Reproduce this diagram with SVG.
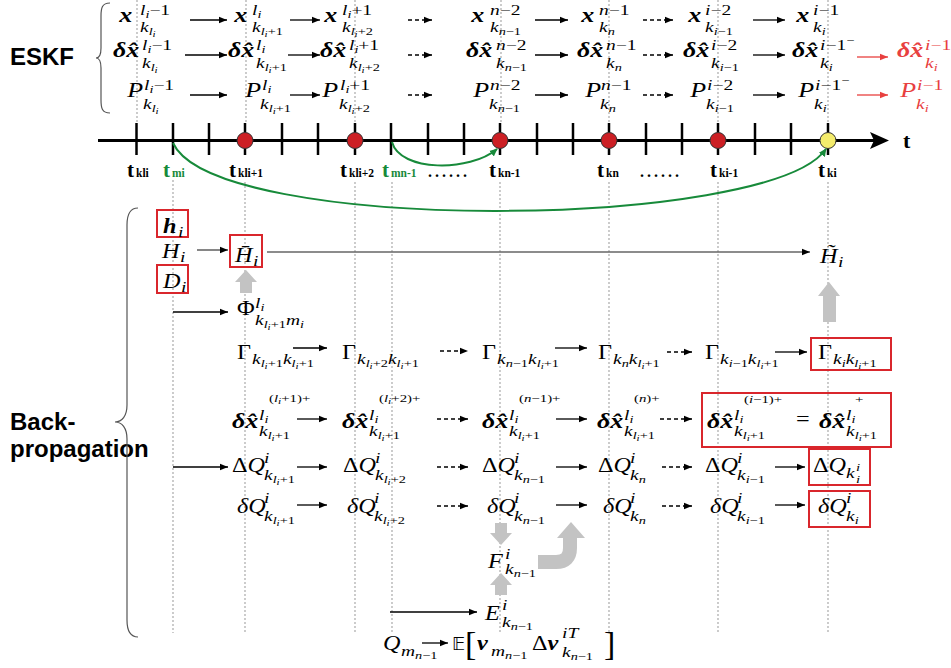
<svg xmlns="http://www.w3.org/2000/svg" width="951" height="668" viewBox="0 0 951 668">
<defs>
<style>
text{font-family:"Liberation Serif","Times New Roman",serif;fill:#000}
.m,.M,.s,.q{transform-box:fill-box;transform-origin:0 0}
.m{font-size:22px;font-style:italic;transform:scaleX(1.18)}
.M{font-size:22px;font-style:italic;transform:scaleX(1.1)}
.s{font-size:15px;font-style:italic;transform:scaleX(1.3)}
.q{font-size:11px;font-style:italic;transform:scaleX(1.35)}
.b{font-weight:bold}
.u{font-style:normal}
.t10{font-size:11px}
.t8{font-size:8.5px}
.red{fill:#e8403f}
.lbl{font-family:"Liberation Sans",Arial,sans-serif;font-weight:bold;font-size:24px}
.tl{font-weight:bold;font-size:21px}
.tls{font-size:11.5px}
.grn{fill:#178a3a}
.ln{fill:none;stroke:#000;stroke-width:1.3;marker-end:url(#ah)}
.da{stroke-dasharray:4 3}
.rl{fill:none;stroke:#e8403f;stroke-width:1.3;marker-end:url(#ahr)}
.gl{fill:none;stroke:#178a3a;stroke-width:2;marker-end:url(#ahg)}
.box{fill:none;stroke:#d9262c;stroke-width:2}
.dot{stroke:#aaa;stroke-width:1.2;stroke-dasharray:2 2}
.tick{stroke:#000;stroke-width:2.5}
.gry{fill:#c3c3c3}
.brace{fill:none;stroke:#555;stroke-width:1.2}
</style>
<marker id="ah" viewBox="0 0 10 10" refX="10" refY="5" markerWidth="8" markerHeight="8" markerUnits="userSpaceOnUse" orient="auto"><path d="M0,0.8 L10,5 L0,9.2 z" fill="#000"/></marker>
<marker id="ahr" viewBox="0 0 10 10" refX="10" refY="5" markerWidth="8" markerHeight="8" markerUnits="userSpaceOnUse" orient="auto"><path d="M0,0.8 L10,5 L0,9.2 z" fill="#e8403f"/></marker>
<marker id="ahg" viewBox="0 0 10 10" refX="9" refY="5" markerWidth="8" markerHeight="8" markerUnits="userSpaceOnUse" orient="auto"><path d="M0,0.5 L10,5 L0,9.5 z" fill="#178a3a"/></marker>
</defs>
<rect width="951" height="668" fill="#fff"/>

<g id="gridlines">
<line class="dot" x1="137" y1="0" x2="137" y2="122"/>
<line class="dot" x1="246" y1="0" x2="246" y2="122"/>
<line class="dot" x1="355" y1="0" x2="355" y2="122"/>
<line class="dot" x1="501" y1="0" x2="501" y2="122"/>
<line class="dot" x1="609" y1="0" x2="609" y2="122"/>
<line class="dot" x1="718" y1="0" x2="718" y2="122"/>
<line class="dot" x1="828" y1="0" x2="828" y2="122"/>
<line class="dot" x1="173" y1="180" x2="173" y2="633"/>
<line class="dot" x1="245" y1="182" x2="245" y2="633"/>
<line class="dot" x1="355" y1="182" x2="355" y2="633"/>
<line class="dot" x1="392" y1="182" x2="392" y2="633"/>
<line class="dot" x1="500" y1="182" x2="500" y2="633"/>
<line class="dot" x1="609" y1="182" x2="609" y2="633"/>
<line class="dot" x1="718" y1="182" x2="718" y2="633"/>
<line class="dot" x1="828" y1="182" x2="828" y2="633"/>
</g>

<g id="labels">
<text class="lbl" x="10" y="65">ESKF</text>
<text class="lbl" x="10" y="430">Back-</text>
<text class="lbl" x="10" y="457">propagation</text>
<path class="brace" d="M110,3 C102,3 101,8 101,16 L101,48 C101,55 99,58 96,58 C99,58 101,61 101,68 L101,100 C101,108 102,113 110,113"/>
<path class="brace" d="M138,208 C130,208 127,214 127,225 L127,405 C127,416 122,422 115,422 C122,422 127,428 127,439 L127,620 C127,631 130,637 138,637"/>
</g>

<g id="timeline">
<line x1="98" y1="140.5" x2="876" y2="140.5" stroke="#000" stroke-width="3"/>
<polygon points="870,132 889,140.5 870,149 874,140.5" fill="#000"/>
<g class="tick">
<line x1="136.5" y1="123" x2="136.5" y2="155"/><line x1="173" y1="123" x2="173" y2="155"/><line x1="209" y1="123" x2="209" y2="155"/><line x1="245" y1="123" x2="245" y2="155"/><line x1="282" y1="123" x2="282" y2="155"/><line x1="318" y1="123" x2="318" y2="155"/><line x1="355" y1="123" x2="355" y2="155"/><line x1="391" y1="123" x2="391" y2="155"/><line x1="428" y1="123" x2="428" y2="155"/><line x1="464" y1="123" x2="464" y2="155"/><line x1="500" y1="123" x2="500" y2="155"/><line x1="537" y1="123" x2="537" y2="155"/><line x1="573" y1="123" x2="573" y2="155"/><line x1="609" y1="123" x2="609" y2="155"/><line x1="646" y1="123" x2="646" y2="155"/><line x1="682" y1="123" x2="682" y2="155"/><line x1="718" y1="123" x2="718" y2="155"/><line x1="755" y1="123" x2="755" y2="155"/><line x1="791" y1="123" x2="791" y2="155"/><line x1="828" y1="123" x2="828" y2="155"/>
</g>
<g stroke="#333" stroke-width="1">
<circle cx="245" cy="140.5" r="8" fill="#cc1f24"/>
<circle cx="355" cy="140.5" r="8" fill="#cc1f24"/>
<circle cx="500" cy="140.5" r="8" fill="#cc1f24"/>
<circle cx="609" cy="140.5" r="8" fill="#cc1f24"/>
<circle cx="718" cy="140.5" r="8" fill="#cc1f24"/>
<circle cx="828" cy="140.5" r="8" fill="#f4ec6c"/>
</g>
<text class="tl" x="127" y="177">t<tspan class="tls" dx="2">kli</tspan></text>
<text class="tl grn" x="163" y="177">t<tspan class="tls" dx="2">mi</tspan></text>
<text class="tl" x="229" y="177">t<tspan class="tls" dx="2">kli+1</tspan></text>
<text class="tl" x="340" y="177">t<tspan class="tls" dx="2">kli+2</tspan></text>
<text class="tl grn" x="382" y="177">t<tspan class="tls" dx="2">mn-1</tspan></text>
<text class="tl" x="428" y="177" style="font-size:16px;letter-spacing:3px">......</text>
<text class="tl" x="489" y="177">t<tspan class="tls" dx="2">kn-1</tspan></text>
<text class="tl" x="597" y="177">t<tspan class="tls" dx="2">kn</tspan></text>
<text class="tl" x="640" y="177" style="font-size:16px;letter-spacing:3px">......</text>
<text class="tl" x="710" y="177">t<tspan class="tls" dx="2">ki-1</tspan></text>
<text class="tl" x="818" y="177">t<tspan class="tls" dx="2">ki</tspan></text>
<text class="tl" x="903" y="148" style="font-size:22px">t</text>
</g>

<g id="eskf-row1">
<g id="x1"><text class="m b" x="119" y="22">x</text><text class="s" x="140" y="15">l<tspan class="t10" dy="3">i</tspan><tspan class="u" dy="-3">−1</tspan></text><text class="s" x="140" y="32">k<tspan class="t10" dy="3">l</tspan><tspan class="t8" dy="2">i</tspan></text></g>
<g id="x2"><text class="m b" x="234" y="22">x</text><text class="s" x="252" y="15">l<tspan class="t10" dy="3">i</tspan></text><text class="s" x="252" y="32">k<tspan class="t10" dy="3">l</tspan><tspan class="t8" dy="2">i</tspan><tspan class="t10 u" dy="-2">+1</tspan></text></g>
<g id="x3"><text class="m b" x="324" y="22">x</text><text class="s" x="342" y="15">l<tspan class="t10" dy="3">i</tspan><tspan class="u" dy="-3">+1</tspan></text><text class="s" x="342" y="32">k<tspan class="t10" dy="3">l</tspan><tspan class="t8" dy="2">i</tspan><tspan class="t10 u" dy="-2">+2</tspan></text></g>
<g id="x4"><text class="m b" x="471" y="22">x</text><text class="s" x="490" y="15">n<tspan class="u">−2</tspan></text><text class="s" x="490" y="32">k<tspan class="t10" dy="3">n</tspan><tspan class="t10 u">−1</tspan></text></g>
<g id="x5"><text class="m b" x="581" y="22">x</text><text class="s" x="599" y="15">n<tspan class="u">−1</tspan></text><text class="s" x="599" y="32">k<tspan class="t10" dy="3">n</tspan></text></g>
<g id="x6"><text class="m b" x="688" y="22">x</text><text class="s" x="705" y="15">i<tspan class="u">−2</tspan></text><text class="s" x="705" y="32">k<tspan class="t10" dy="3">i</tspan><tspan class="t10 u">−1</tspan></text></g>
<g id="x7"><text class="m b" x="796" y="22">x</text><text class="s" x="813" y="15">i<tspan class="u">−1</tspan></text><text class="s" x="813" y="32">k<tspan class="t10" dy="3">i</tspan></text></g>
</g>

<g id="eskf-row2">
<g id="dx1"><text class="m b" x="113" y="57">δx&#x302;</text><text class="s" x="142" y="50">l<tspan class="t10" dy="3">i</tspan><tspan class="u" dy="-3">−1</tspan></text><text class="s" x="142" y="68">k<tspan class="t10" dy="3">l</tspan><tspan class="t8" dy="2">i</tspan></text></g>
<g id="dx2"><text class="m b" x="228" y="57">δx&#x302;</text><text class="s" x="256" y="50">l<tspan class="t10" dy="3">i</tspan></text><text class="s" x="256" y="68">k<tspan class="t10" dy="3">l</tspan><tspan class="t8" dy="2">i</tspan><tspan class="t10 u" dy="-2">+1</tspan></text></g>
<g id="dx3"><text class="m b" x="320" y="57">δx&#x302;</text><text class="s" x="349" y="50">l<tspan class="t10" dy="3">i</tspan><tspan class="u" dy="-3">+1</tspan></text><text class="s" x="349" y="68">k<tspan class="t10" dy="3">l</tspan><tspan class="t8" dy="2">i</tspan><tspan class="t10 u" dy="-2">+2</tspan></text></g>
<g id="dx4"><text class="m b" x="466" y="57">δx&#x302;</text><text class="s" x="496" y="50">n<tspan class="u">−2</tspan></text><text class="s" x="496" y="68">k<tspan class="t10" dy="3">n</tspan><tspan class="t10 u">−1</tspan></text></g>
<g id="dx5"><text class="m b" x="577" y="57">δx&#x302;</text><text class="s" x="606" y="50">n<tspan class="u">−1</tspan></text><text class="s" x="606" y="68">k<tspan class="t10" dy="3">n</tspan></text></g>
<g id="dx6"><text class="m b" x="683" y="57">δx&#x302;</text><text class="s" x="711" y="50">i<tspan class="u">−2</tspan></text><text class="s" x="711" y="68">k<tspan class="t10" dy="3">i</tspan><tspan class="t10 u">−1</tspan></text></g>
<g id="dx7"><text class="m b" x="792" y="57">δx&#x302;</text><text class="s" x="820" y="50">i<tspan class="u">−1</tspan><tspan class="t10 u" dy="-6">−</tspan></text><text class="s" x="820" y="68">k<tspan class="t10" dy="3">i</tspan></text></g>
<g id="dx8"><text class="m b red" x="897" y="57">δx&#x302;</text><text class="s red" x="925" y="50">i<tspan class="u">−1</tspan></text><text class="s red" x="925" y="68">k<tspan class="t10" dy="3">i</tspan></text></g>
</g>

<g id="eskf-row3">
<g id="p1"><text class="m" x="127" y="97">P</text><text class="s" x="144" y="90">l<tspan class="t10" dy="3">i</tspan><tspan class="u" dy="-3">−1</tspan></text><text class="s" x="143" y="109">k<tspan class="t10" dy="3">l</tspan><tspan class="t8" dy="2">i</tspan></text></g>
<g id="p2"><text class="m" x="245" y="97">P</text><text class="s" x="262" y="90">l<tspan class="t10" dy="3">i</tspan></text><text class="s" x="260" y="109">k<tspan class="t10" dy="3">l</tspan><tspan class="t8" dy="2">i</tspan><tspan class="t10 u" dy="-2">+1</tspan></text></g>
<g id="p3"><text class="m" x="322" y="97">P</text><text class="s" x="340" y="90">l<tspan class="t10" dy="3">i</tspan><tspan class="u" dy="-3">+1</tspan></text><text class="s" x="339" y="109">k<tspan class="t10" dy="3">l</tspan><tspan class="t8" dy="2">i</tspan><tspan class="t10 u" dy="-2">+2</tspan></text></g>
<g id="p4"><text class="m" x="473" y="97">P</text><text class="s" x="490" y="90">n<tspan class="u">−2</tspan></text><text class="s" x="489" y="109">k<tspan class="t10" dy="3">n</tspan><tspan class="t10 u">−1</tspan></text></g>
<g id="p5"><text class="m" x="585" y="97">P</text><text class="s" x="601" y="90">n<tspan class="u">−1</tspan></text><text class="s" x="600" y="109">k<tspan class="t10" dy="3">n</tspan></text></g>
<g id="p6"><text class="m" x="690" y="97">P</text><text class="s" x="707" y="90">i<tspan class="u">−2</tspan></text><text class="s" x="706" y="109">k<tspan class="t10" dy="3">i</tspan><tspan class="t10 u">−1</tspan></text></g>
<g id="p7"><text class="m" x="798" y="97">P</text><text class="s" x="815" y="90">i<tspan class="u">−1</tspan><tspan class="t10 u" dy="-6">−</tspan></text><text class="s" x="814" y="109">k<tspan class="t10" dy="3">i</tspan></text></g>
<g id="p8"><text class="m red" x="900" y="97">P</text><text class="s red" x="917" y="90">i<tspan class="u">−1</tspan></text><text class="s red" x="916" y="109">k<tspan class="t10" dy="3">i</tspan></text></g>
</g>

<g id="bp-H">
<g id="hi"><rect class="box" x="157" y="210" width="31" height="27"/><text class="M b" x="163" y="233">h</text><text class="s" x="178" y="237">i</text></g>
<g id="Hi"><text class="M" x="162" y="258">H</text><text class="s" x="180" y="262">i</text></g>
<g id="Di"><rect class="box" x="157" y="265" width="31" height="28"/><text class="M" x="163" y="288">D</text><text class="s" x="181" y="292">i</text></g>
<g id="Hbar"><rect class="box" x="230" y="235" width="32" height="32"/><text class="M" x="235" y="262">H&#x304;</text><text class="s" x="253" y="266">i</text></g>
<g id="Htilde"><text class="M" x="820" y="263">H&#x303;</text><text class="s" x="838" y="267">i</text></g>
<g id="Phi"><text class="M u" x="237" y="315">Φ</text><text class="s" x="255" y="308">l<tspan class="t10" dy="3">i</tspan></text><text class="s" x="255" y="325">k<tspan class="t10" dy="3">l</tspan><tspan class="t8" dy="2">i</tspan><tspan class="t10 u" dy="-2">+1</tspan><tspan dy="-3">m</tspan><tspan class="t10" dy="3">i</tspan></text></g>
</g>

<g id="bp-gamma">
<g id="G1"><text class="M u" x="237" y="359">Γ</text><text class="s" x="252" y="364">k<tspan class="t10" dy="3">l</tspan><tspan class="t8" dy="2">i</tspan><tspan class="t10 u" dy="-2">+1</tspan><tspan dy="-3">k</tspan><tspan class="t10" dy="3">l</tspan><tspan class="t8" dy="2">i</tspan><tspan class="t10 u" dy="-2">+1</tspan></text></g>
<g id="G2"><text class="M u" x="342" y="359">Γ</text><text class="s" x="357" y="364">k<tspan class="t10" dy="3">l</tspan><tspan class="t8" dy="2">i</tspan><tspan class="t10 u" dy="-2">+2</tspan><tspan dy="-3">k</tspan><tspan class="t10" dy="3">l</tspan><tspan class="t8" dy="2">i</tspan><tspan class="t10 u" dy="-2">+1</tspan></text></g>
<g id="G3"><text class="M u" x="482" y="359">Γ</text><text class="s" x="497" y="364">k<tspan class="t10" dy="3">n</tspan><tspan class="t10 u">−1</tspan><tspan dy="-3">k</tspan><tspan class="t10" dy="3">l</tspan><tspan class="t8" dy="2">i</tspan><tspan class="t10 u" dy="-2">+1</tspan></text></g>
<g id="G4"><text class="M u" x="598" y="359">Γ</text><text class="s" x="613" y="364">k<tspan class="t10" dy="3">n</tspan><tspan dy="-3">k</tspan><tspan class="t10" dy="3">l</tspan><tspan class="t8" dy="2">i</tspan><tspan class="t10 u" dy="-2">+1</tspan></text></g>
<g id="G5"><text class="M u" x="705" y="359">Γ</text><text class="s" x="720" y="364">k<tspan class="t10" dy="3">i</tspan><tspan class="t10 u">−1</tspan><tspan dy="-3">k</tspan><tspan class="t10" dy="3">l</tspan><tspan class="t8" dy="2">i</tspan><tspan class="t10 u" dy="-2">+1</tspan></text></g>
<g id="G6"><rect class="box" x="811" y="338" width="80" height="32"/><text class="M u" x="818" y="359">Γ</text><text class="s" x="833" y="364">k<tspan class="t10" dy="3">i</tspan><tspan dy="-3">k</tspan><tspan class="t10" dy="3">l</tspan><tspan class="t8" dy="2">i</tspan><tspan class="t10 u" dy="-2">+1</tspan></text></g>
</g>

<g id="bp-dx">
<g id="B1"><text class="m b" x="232" y="428">δx&#x302;</text><text class="s" x="259" y="420">l<tspan class="t10" dy="3">i</tspan></text><text class="q" x="269" y="402"><tspan class="u">(</tspan>l<tspan class="t8" dy="2">i</tspan><tspan class="u" dy="-2">+1)+</tspan></text><text class="s" x="259" y="436">k<tspan class="t10" dy="3">l</tspan><tspan class="t8" dy="2">i</tspan><tspan class="t10 u" dy="-2">+1</tspan></text></g>
<g id="B2"><text class="m b" x="342" y="428">δx&#x302;</text><text class="s" x="369" y="420">l<tspan class="t10" dy="3">i</tspan></text><text class="q" x="379" y="402"><tspan class="u">(</tspan>l<tspan class="t8" dy="2">i</tspan><tspan class="u" dy="-2">+2)+</tspan></text><text class="s" x="369" y="436">k<tspan class="t10" dy="3">l</tspan><tspan class="t8" dy="2">i</tspan><tspan class="t10 u" dy="-2">+1</tspan></text></g>
<g id="B3"><text class="m b" x="482" y="428">δx&#x302;</text><text class="s" x="509" y="420">l<tspan class="t10" dy="3">i</tspan></text><text class="q" x="519" y="402"><tspan class="u">(</tspan>n<tspan class="u">−1)+</tspan></text><text class="s" x="509" y="436">k<tspan class="t10" dy="3">l</tspan><tspan class="t8" dy="2">i</tspan><tspan class="t10 u" dy="-2">+1</tspan></text></g>
<g id="B4"><text class="m b" x="597" y="428">δx&#x302;</text><text class="s" x="624" y="420">l<tspan class="t10" dy="3">i</tspan></text><text class="q" x="634" y="402"><tspan class="u">(</tspan>n<tspan class="u">)+</tspan></text><text class="s" x="624" y="436">k<tspan class="t10" dy="3">l</tspan><tspan class="t8" dy="2">i</tspan><tspan class="t10 u" dy="-2">+1</tspan></text></g>
<g id="B5"><rect class="box" x="702" y="393" width="189" height="54"/><text class="m b" x="707" y="428">δx&#x302;</text><text class="s" x="734" y="420">l<tspan class="t10" dy="3">i</tspan></text><text class="q" x="744" y="403"><tspan class="u">(</tspan>i<tspan class="u">−1)+</tspan></text><text class="s" x="734" y="436">k<tspan class="t10" dy="3">l</tspan><tspan class="t8" dy="2">i</tspan><tspan class="t10 u" dy="-2">+1</tspan></text><text class="M u" x="796" y="426">=</text><text class="m b" x="819" y="428">δx&#x302;</text><text class="s" x="846" y="420">l<tspan class="t10" dy="3">i</tspan></text><text class="q u" x="855" y="403">+</text><text class="s" x="846" y="436">k<tspan class="t10" dy="3">l</tspan><tspan class="t8" dy="2">i</tspan><tspan class="t10 u" dy="-2">+1</tspan></text></g>
</g>

<g id="bp-DQ">
<g id="D1"><text class="M" x="232" y="472"><tspan class="u">Δ</tspan>Q</text><text class="s" x="264" y="463">i</text><text class="s" x="264" y="480">k<tspan class="t10" dy="3">l</tspan><tspan class="t8" dy="2">i</tspan><tspan class="t10 u" dy="-2">+1</tspan></text></g>
<g id="D2"><text class="M" x="343" y="472"><tspan class="u">Δ</tspan>Q</text><text class="s" x="375" y="463">i</text><text class="s" x="375" y="480">k<tspan class="t10" dy="3">l</tspan><tspan class="t8" dy="2">i</tspan><tspan class="t10 u" dy="-2">+2</tspan></text></g>
<g id="D3"><text class="M" x="482" y="472"><tspan class="u">Δ</tspan>Q</text><text class="s" x="514" y="463">i</text><text class="s" x="514" y="480">k<tspan class="t10" dy="3">n</tspan><tspan class="t10 u">−1</tspan></text></g>
<g id="D4"><text class="M" x="598" y="472"><tspan class="u">Δ</tspan>Q</text><text class="s" x="630" y="463">i</text><text class="s" x="630" y="480">k<tspan class="t10" dy="3">n</tspan></text></g>
<g id="D5"><text class="M" x="705" y="472"><tspan class="u">Δ</tspan>Q</text><text class="s" x="737" y="463">i</text><text class="s" x="737" y="480">k<tspan class="t10" dy="3">i</tspan><tspan class="t10 u">−1</tspan></text></g>
<g id="D6"><rect class="box" x="809" y="449" width="61" height="36"/><text class="M" x="813" y="472"><tspan class="u">Δ</tspan>Q</text><text class="s" x="846" y="478">k</text><text class="q" x="856" y="471">i</text><text class="q" x="856" y="483">i</text></g>
</g>

<g id="bp-dQ">
<g id="d1"><text class="M" x="237" y="513">δQ</text><text class="s" x="264" y="503">i</text><text class="s" x="264" y="521">k<tspan class="t10" dy="3">l</tspan><tspan class="t8" dy="2">i</tspan><tspan class="t10 u" dy="-2">+1</tspan></text></g>
<g id="d2"><text class="M" x="347" y="513">δQ</text><text class="s" x="374" y="503">i</text><text class="s" x="374" y="521">k<tspan class="t10" dy="3">l</tspan><tspan class="t8" dy="2">i</tspan><tspan class="t10 u" dy="-2">+2</tspan></text></g>
<g id="d3"><text class="M" x="487" y="513">δQ</text><text class="s" x="514" y="503">i</text><text class="s" x="514" y="521">k<tspan class="t10" dy="3">n</tspan><tspan class="t10 u">−1</tspan></text></g>
<g id="d4"><text class="M" x="603" y="513">δQ</text><text class="s" x="630" y="503">i</text><text class="s" x="630" y="521">k<tspan class="t10" dy="3">n</tspan></text></g>
<g id="d5"><text class="M" x="710" y="513">δQ</text><text class="s" x="737" y="503">i</text><text class="s" x="737" y="521">k<tspan class="t10" dy="3">i</tspan><tspan class="t10 u">−1</tspan></text></g>
<g id="d6"><rect class="box" x="809" y="491" width="61" height="36"/><text class="M" x="818" y="513">δQ</text><text class="s" x="846" y="503">i</text><text class="s" x="846" y="521">k<tspan class="t10" dy="3">i</tspan></text></g>
</g>

<g id="bp-FE">
<g id="F"><text class="M" x="488" y="568">F</text><text class="s" x="505" y="559">i</text><text class="s" x="505" y="574">k<tspan class="t10" dy="3">n</tspan><tspan class="t10 u">−1</tspan></text></g>
<g id="E"><text class="M" x="485" y="620">E</text><text class="s" x="502" y="610">i</text><text class="s" x="502" y="627">k<tspan class="t10" dy="3">n</tspan><tspan class="t10 u">−1</tspan></text></g>
<g id="Qm"><text class="M" x="383" y="650">Q</text><text class="s" x="401" y="656">m<tspan class="t10" dy="3">n</tspan><tspan class="t10 u">−1</tspan></text></g>
<g id="Enu">
<text x="452" y="650" style="font-family:'DejaVu Sans',sans-serif;font-size:18px">𝔼</text>
<text x="465" y="655" style="font-size:34px">[</text>
<text class="M b" x="477" y="650">ν</text><text class="s" x="491" y="656">m<tspan class="t10" dy="3">n</tspan><tspan class="t10 u">−1</tspan></text>
<text class="M" x="532" y="650"><tspan class="u">Δ</tspan><tspan class="b">ν</tspan></text><text class="s" x="562" y="638">iT</text><text class="s" x="562" y="657">k<tspan class="t10" dy="3">n</tspan><tspan class="t10 u">−1</tspan></text>
<text x="604" y="655" style="font-size:34px">]</text>
</g>
</g>

<g id="block-arrows">
<polygon class="gry" points="246,270 257,282 252,282 252,293 240,293 240,282 235,282"/>
<polygon class="gry" points="829,282 840,296 836,296 836,322 823,322 823,296 818,296"/>
<polygon class="gry" points="495,523 507,523 507,533 512,533 501,545 490,533 495,533"/>
<polygon class="gry" points="501,573 512,585 507,585 507,595 495,595 495,585 490,585"/>
<path d="M538,562 H556 Q570,562 570,548 V537" fill="none" stroke="#c3c3c3" stroke-width="14"/>
<polygon class="gry" points="557,538 585,538 571,522"/>
</g>

<g id="connectors">
<path class="ln" d="M190,20 H227"/><path class="ln" d="M290,20 H320"/><path class="ln da" d="M408,20 H432"/><path class="ln" d="M535,20 H568"/><path class="ln da" d="M643,20 H673"/><path class="ln" d="M753,20 H785"/>
<path class="ln" d="M185,55 H227"/><path class="ln" d="M288,55 H320"/><path class="ln da" d="M408,55 H432"/><path class="ln" d="M535,55 H568"/><path class="ln da" d="M643,55 H673"/><path class="ln" d="M753,55 H785"/><path class="rl" d="M857,57 H888"/>
<path class="ln" d="M190,95 H227"/><path class="ln" d="M290,95 H320"/><path class="ln da" d="M408,95 H432"/><path class="ln" d="M535,95 H568"/><path class="ln da" d="M643,95 H673"/><path class="ln" d="M753,95 H785"/><path class="rl" d="M857,95 H888"/>
<path class="gl" d="M173,143 C215,235 770,230 826,149"/>
<path class="gl" d="M392,142 C400,172 470,172 497,149"/>
<path class="ln" d="M197,250 H228" style="stroke:#444"/>
<path class="ln" d="M267,252 H810" style="stroke:#666"/>
<path class="ln" d="M173,312 H228"/>
<path class="ln" d="M293,348 H327"/><path class="ln da" d="M440,351 H468"/><path class="ln" d="M555,348 H587"/><path class="ln da" d="M667,352 H692"/><path class="ln" d="M775,352 H807"/>
<path class="ln" d="M297,419 H327"/><path class="ln da" d="M437,419 H468"/><path class="ln" d="M556,419 H587"/><path class="ln da" d="M660,419 H692"/>
<path class="ln" d="M173,467 H228"/>
<path class="ln" d="M297,467 H327"/><path class="ln da" d="M437,467 H468"/><path class="ln" d="M556,467 H587"/><path class="ln da" d="M662,467 H692"/><path class="ln" d="M775,467 H805"/>
<path class="ln" d="M297,505 H327"/><path class="ln da" d="M437,506 H468"/><path class="ln" d="M556,505 H587"/><path class="ln da" d="M662,506 H692"/><path class="ln" d="M775,505 H805"/>
<path class="ln" d="M390,612 H477"/>
<path class="ln" d="M422,643 H448"/>
</g>
</svg>
